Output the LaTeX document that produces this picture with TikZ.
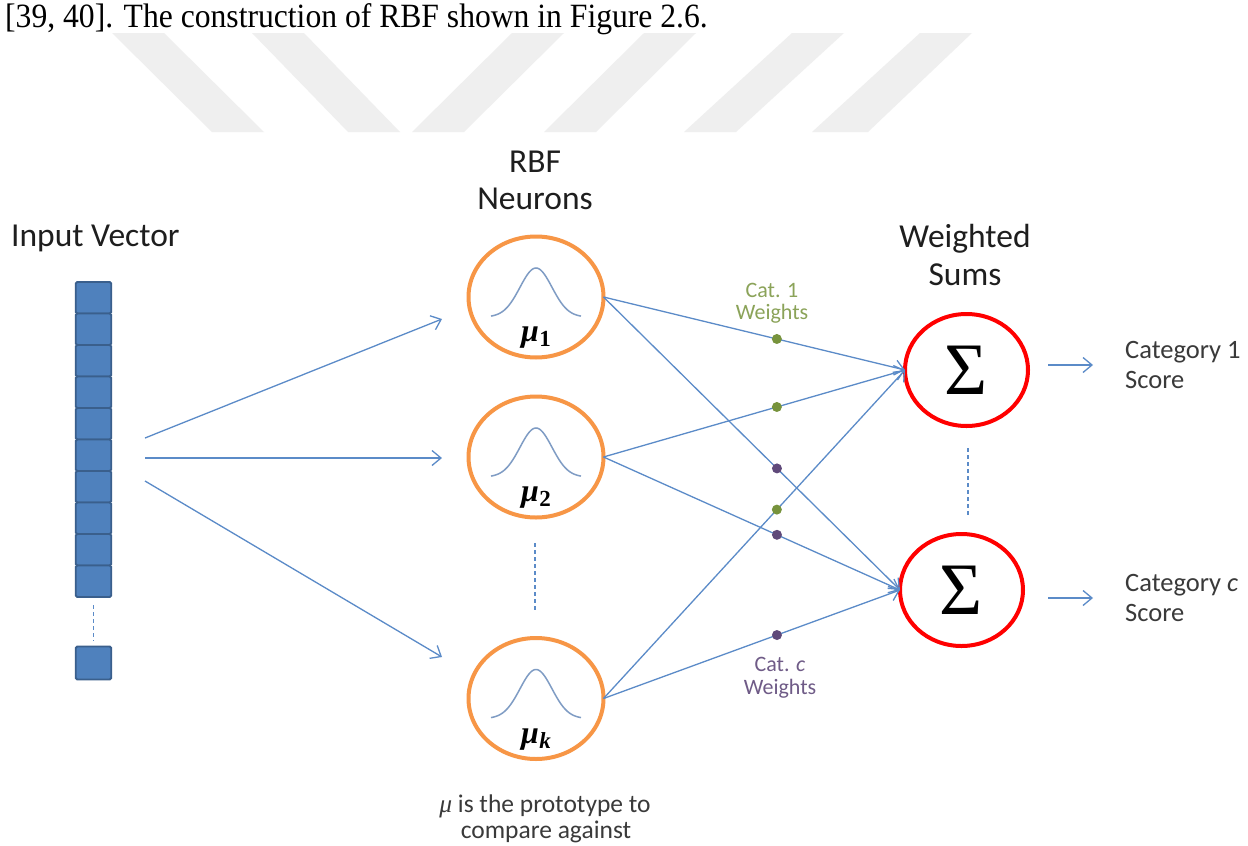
\documentclass[tikz,border=0pt]{standalone}
\usepackage[no-math]{fontspec}
\setmainfont{Carlito}
\newfontfamily\timesf{Liberation Serif}
\usetikzlibrary{arrows.meta,shapes.geometric,calc}
\definecolor{vecfill}{HTML}{4F81BD}
\definecolor{vecedge}{HTML}{3A5F8C}
\definecolor{lineblue}{HTML}{5B8BC8}
\definecolor{neuorange}{HTML}{F79646}
\definecolor{gausscol}{HTML}{7F9CC4}
\definecolor{catgreen}{HTML}{77933C}
\definecolor{catpurple}{HTML}{5F497A}
\definecolor{wmgray}{HTML}{EFEFEF}
\definecolor{headtxt}{HTML}{1E1E1E}
\definecolor{bodytxt}{HTML}{3A3A3A}
\newcommand{\mulab}[1]{{\timesf\bfseries\itshape μ}\kern0.5pt\raisebox{-5pt}{\fontsize{23}{23}\selectfont\timesf\bfseries #1}}
\tikzset{
  cell/.style={draw=vecedge, fill=vecfill, line width=1.8pt, rounded corners=1.5pt,
    minimum width=35.5pt, minimum height=31.5pt, inner sep=0pt, outer sep=0pt},
  neuron/.style={ellipse, draw=neuorange, line width=4pt, minimum width=135pt,
    minimum height=121pt, inner sep=0pt, outer sep=0pt},
  sumnode/.style={ellipse, draw=red, line width=4pt, minimum width=123pt,
    minimum height=112pt, inner sep=0pt, outer sep=0pt,
    font=\timesf\fontsize{74}{74}\selectfont},
  wire/.style={draw=lineblue, line width=1.3pt},
  warrow/.style={wire, -{Straight Barb[length=9pt,width=15pt,line width=1.3pt]}},
  gdot/.style={circle, fill=catgreen, minimum size=10pt, inner sep=0pt},
  pdot/.style={circle, fill=catpurple, minimum size=10pt, inner sep=0pt},
  vdash/.style={draw=lineblue, line width=1.3pt, dash pattern=on 4pt off 3pt},
  head/.style={anchor=base, inner sep=0pt, text=headtxt, font=\fontsize{33.5}{38}\selectfont},
  catlab/.style={anchor=base west, inner sep=0pt, text=bodytxt, font=\fontsize{26.5}{30}\selectfont},
  wlab/.style={anchor=base, inner sep=0pt, font=\fontsize{22}{24}\selectfont},
  gauss/.style={draw=gausscol, line width=1.5pt},
  mulabel/.style={font=\fontsize{32}{32}\selectfont, inner sep=0pt},
  notelab/.style={anchor=base, inner sep=0pt, text=bodytxt, font=\fontsize{25.5}{26}\selectfont},
}
\begin{document}
\begin{tikzpicture}[x=1pt,y=-1pt]
\useasboundingbox (0,0) rectangle (1248,846);
\fill[white] (0,0) rectangle (1248,846);
% watermark bands
\fill[wmgray] (112,33) -- (164,33) -- (264,132) -- (212,132) -- cycle;
\fill[wmgray] (252,33) -- (304,33) -- (400,132) -- (348,132) -- cycle;
\fill[wmgray] (412,132) -- (464,132) -- (564,33) -- (512,33) -- cycle;
\fill[wmgray] (544,132) -- (596,132) -- (696,33) -- (644,33) -- cycle;
\fill[wmgray] (684,132) -- (736,132) -- (844,33) -- (792,33) -- cycle;
\fill[wmgray] (812,132) -- (868,132) -- (972,33) -- (920,33) -- cycle;
% caption line
\node[anchor=base west, inner sep=0pt, font=\timesf\fontsize{34}{36}\selectfont] (cap) at (5,27)
  {\scalebox{0.93}[1]{[39, 40]. The construction of RBF shown in Figure 2.6.}};
% headers
\node[head, anchor=base west] (hin) at (11,246) {Input Vector};
\node[head] (hrbf1) at (535,172) {RBF};
\node[head] (hrbf2) at (535,209) {Neurons};
\node[head] (hws1) at (965,247) {Weighted};
\node[head] (hws2) at (965,285) {Sums};
% input vector
\foreach \i in {0,...,9}{
  \node[cell] (c\i) at (93.5,{297.75+31.5*\i}) {};
}
\node[cell, minimum height=33pt] (clast) at (93.5,663) {};
\draw[vdash] (c9.south) ++(0,8) -- (93.5,641);
% neurons
\node[neuron] (mu1) at (536,297) {};
\node[neuron] (mu2) at (536,457) {};
\node[neuron] (muk) at (536,698.5) {};
\foreach \n in {mu1,mu2,muk}{
  \begin{scope}[shift={(\n.center)}]
    \draw[gauss] plot[domain=-45:45, samples=61] ({\x},{20-49*exp(-(\x*\x)/512)});
  \end{scope}
}
\node[mulabel] (l1) at ($(mu1.center)+(0,41)$) {\mulab{1}};
\node[mulabel] (l2) at ($(mu2.center)+(0,41)$) {\mulab{2}};
\node[mulabel] (lk) at ($(muk.center)+(0,41)$) {\mulab{\itshape k}};
\draw[vdash] (535,543) -- (535,610);
% input arrows
\coordinate (s1) at (145,438);
\coordinate (s2) at (145,458);
\coordinate (s3) at (145,481);
\coordinate (t1) at (442,319);
\coordinate (t2) at (442,458);
\coordinate (t3) at (442,657);
\draw[warrow] (s1) -- (t1);
\draw[warrow] (s2) -- (t2);
\draw[warrow] (s3) -- (t3);
% sums
\node[sumnode] (sum1) at (966.5,370) {Σ};
\node[sumnode] (sumc) at (961.5,590) {Σ};
\draw[vdash] (968,448) -- (968,517);
% weights
\draw[warrow] (mu1.east) -- node[gdot, pos=0.575] (g1) {} (sum1.west);
\draw[warrow] (mu2.east) -- node[gdot, pos=0.575] (g2) {} (sum1.west);
\draw[warrow] (muk.east) -- node[gdot, pos=0.575] (g3) {} (sum1.west);
\draw[warrow] (mu1.east) -- node[pdot, pos=0.585] (p1) {} (sumc.west);
\draw[warrow] (mu2.east) -- node[pdot, pos=0.585] (p2) {} (sumc.west);
\draw[warrow] (muk.east) -- node[pdot, pos=0.585] (p3) {} (sumc.west);
\node[wlab, text=catgreen!85!white] (cat1a) at (772,297) {Cat. 1};
\node[wlab, text=catgreen!85!white] (cat1b) at (772,319) {Weights};
\node[wlab, text=catpurple!90!white] (catca) at (780,671) {Cat. \textit{c}};
\node[wlab, text=catpurple!90!white] (catcb) at (780,694) {Weights};
% outputs
\coordinate (o1s) at (1048,365);
\coordinate (o1e) at (1093,365);
\coordinate (o2s) at (1048,598);
\coordinate (o2e) at (1093,598);
\draw[warrow] (o1s) -- (o1e);
\draw[warrow] (o2s) -- (o2e);
\node[catlab] (cs1a) at (1125,358) {Category 1};
\node[catlab] (cs1b) at (1125,388) {Score};
\node[catlab] (csca) at (1125,591) {Category \textit{c}};
\node[catlab] (cscb) at (1125,621) {Score};
% bottom note
\node[notelab] (note1) at (545,812) {{\timesf\itshape μ} is the prototype to};
\node[notelab] (note2) at (546,838) {compare against};
\end{tikzpicture}
\end{document}
